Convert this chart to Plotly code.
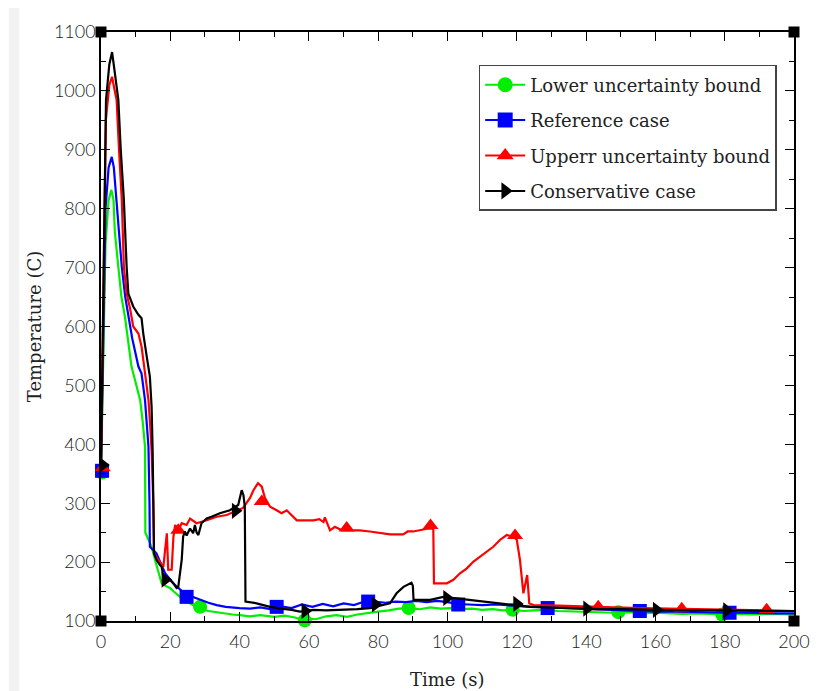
import plotly.graph_objects as go

# ---------------- data ----------------
lower_t = [0, 0.6, 1.3, 2.2, 3.0, 3.6, 4.0, 5.0, 5.9, 6.9, 7.8, 8.8, 10.0, 11.3, 12.0, 12.7, 12.8,
           13.5, 14.6, 16.0, 17.5, 18.5, 19.9, 21.0, 22.8, 25.0, 28.6, 31.0, 35.0, 38.0, 40.0, 43.0,
           46.0, 50.0, 53.0, 56.0, 58.0, 60.0, 62.0, 65.0, 68.0, 71.0, 74.0, 77.0, 80.0, 83.0, 86.0,
           89.0, 92.0, 95.0, 98.0, 101.0, 104.0, 107.0, 110.0, 113.0, 116.0, 119.0, 122.0, 125.0,
           128.0, 132.0, 136.0, 140.0, 144.0, 148.0, 152.0, 156.0, 160.0, 164.0, 168.0, 172.0,
           176.0, 180.0, 184.0, 188.0, 192.0, 196.0, 200.0]
lower_T = [350, 560, 740, 815, 832, 815, 760, 701, 650, 617, 575, 532, 505, 475, 440, 396, 250,
           240, 226, 195, 164, 160, 156, 150, 141, 132, 121, 117, 113, 111, 110, 108,
           110, 107, 109, 106, 102, 104, 103, 108, 110, 107, 111, 114, 116, 118, 121,
           122, 120, 123, 121, 122, 120, 121, 119, 120, 118, 119, 117, 118,
           119, 117, 116, 116, 115, 114, 115, 113, 114, 113, 112, 113,
           112, 111, 112, 111, 112, 111, 111]

ref_t = [0, 0.6, 1.3, 2.2, 3.1, 3.7, 4.4, 5.2, 6.0, 7.0, 7.9, 9.0, 10.8, 11.7, 12.7, 13.7, 14.0,
         14.1, 16.0, 18.5, 20.8, 23.7, 26.0, 28.6, 31.0, 33.4, 36.0, 40.0, 43.0, 46.0, 50.0, 52.0,
         55.0, 58.0, 61.0, 64.0, 67.0, 70.0, 73.0, 76.0, 79.0, 82.0, 85.0, 88.0, 91.0, 94.0, 97.0,
         100.0, 103.0, 106.0, 110.0, 114.0, 118.0, 122.0, 126.0, 130.0, 135.0, 140.0, 145.0, 150.0,
         155.0, 160.0, 165.0, 170.0, 175.0, 180.0, 185.0, 190.0, 195.0, 200.0]
ref_T = [355, 600, 800, 870, 888, 870, 815, 750, 701, 650, 617, 580, 532, 520, 475, 396, 300,
         226, 215, 181, 164, 149, 142, 136, 131, 127, 124, 122, 121, 123, 119, 125,
         122, 128, 124, 129, 125, 130, 127, 133, 133, 131, 133, 132, 134, 132, 134,
         132, 129, 128, 127, 128, 126, 125, 124, 123, 121, 120, 119, 118,
         117, 116, 116, 115, 115, 114, 114, 113, 113, 113]

upper_t = [0, 0.7, 1.4, 2.4, 3.2, 3.8, 4.5, 5.2, 6.0, 6.6, 7.4, 8.4, 9.3, 10.8, 11.7, 12.7, 13.7,
           14.1, 14.6, 15.1, 15.3, 16.5, 18.0, 19.0, 19.4, 20.4, 20.9, 21.4, 22.3, 23.3, 24.7, 25.7,
           27.6, 30.5, 33.4, 36.3, 39.2, 41.0, 43.0, 44.0, 45.3, 46.4, 47.3, 48.8, 50.7, 52.1, 53.6,
           54.5, 56.5, 58.4, 61.3, 63.0, 64.2, 64.6, 66.1, 67.5, 69.5, 71.9, 74.7, 77.6, 80.5, 83.4,
           87.2, 88.5, 90.1, 92.1, 94.5, 95.9, 96.1, 99.8, 101.7, 103.6, 105.5, 107.5, 109.4, 111.3,
           113.2, 115.2, 117.1, 119.0, 120.0, 120.9, 121.9, 122.7, 123.0, 123.6, 124.8, 132.0, 140.0,
           148.0, 156.0, 164.0, 172.0, 180.0, 188.0, 196.0, 200.0]
upper_T = [360, 700, 950, 1010, 1024, 1005, 985, 900, 815, 701, 656, 630, 600, 588, 566, 521, 475,
           440, 390, 300, 215, 204, 192, 249, 187, 187, 243, 263, 254, 266, 263, 274,
           266, 271, 277, 280, 288, 292, 309, 322, 334, 328, 309, 294, 288, 283, 288,
           283, 271, 271, 271, 273, 268, 276, 254, 260, 254, 254, 254, 252, 249, 247,
           247, 252, 252, 254, 257, 257, 164, 164, 170, 181, 189, 201, 209, 218,
           226, 238, 246, 243, 238, 204, 147, 170, 178, 130, 127, 126, 124, 123,
           122, 121, 120, 120, 119, 118, 117]

cons_t = [0, 0.7, 1.45, 2.4, 3.2, 4.0, 5.0, 5.7, 6.6, 7.4, 7.9, 9.3, 10.8, 11.7, 12.2, 13.2, 14.1,
          14.6, 14.9, 15.3, 16.0, 17.0, 17.5, 18.0, 18.3, 19.2, 19.9, 20.9, 21.8, 22.3, 23.3, 23.7,
          24.2, 24.7, 25.7, 26.6, 27.1, 27.6, 28.1, 29.0, 30.5, 31.9, 34.3, 37.2, 39.6, 40.6, 41.1,
          41.5, 41.7, 44.9, 48.8, 52.0, 55.0, 57.4, 61.3, 65.0, 70.9, 74.0, 77.6, 80.5, 83.4, 85.3,
          87.3, 89.6, 90.0, 90.2, 95.0, 98.8, 101.7, 105.0, 109.4, 114.0, 119.0, 123.8, 128.0,
          132.5, 138.0, 144.0, 150.0, 156.0, 162.0, 168.0, 174.0, 180.0, 186.0, 192.0, 200.0]
cons_T = [365, 700, 985, 1045, 1066, 1030, 985, 900, 815, 701, 656, 634, 620, 614, 588, 549, 515,
          464, 390, 215, 204, 195, 192, 175, 168, 172, 170, 164, 156, 158, 204, 243,
          252, 245, 257, 249, 263, 250, 246, 266, 274, 277, 283, 288, 297, 322, 314,
          294, 133, 130, 124, 121, 119, 116, 119, 118, 119, 120, 122, 126, 130, 147,
          158, 165, 160, 136, 136, 141, 139, 137, 133, 130, 127, 124, 123,
          122, 121, 120, 120, 119, 119, 118, 118, 118, 118, 117, 117]

# sparse symbol positions along each curve
lower_mt = [0.3, 28.6, 58.8, 88.8, 118.8, 149.3, 179.3]
lower_mT = [352, 124, 101, 122, 119, 115, 111]
ref_mt = [0.3, 24.7, 50.7, 77.1, 103.1, 128.9, 155.5, 181.4]
ref_mT = [355, 141, 124, 133, 128, 122, 117, 114]
upper_mt = [0.5, 22.3, 46.4, 70.9, 95.1, 119.5, 143.5, 167.6, 192.1]
upper_mT = [360, 254, 303, 258, 262, 245, 124, 121, 119]
cons_mt = [0.5, 18.5, 38.8, 58.9, 79.2, 99.8, 120.0, 140.2, 160.3, 180.6]
cons_mT = [365, 170, 287, 117, 128, 139, 129, 121, 119, 118]

series_names = ["Lower uncertainty bound", "Reference case", "Upperr uncertainty bound", "Conservative case"]
x_title = "Time (s)"
y_title = "Temperature (C)"

x_range = [0, 200]
y_range = [100, 1100]
x_ticks = [0, 20, 40, 60, 80, 100, 120, 140, 160, 180, 200]
y_ticks = [100, 200, 300, 400, 500, 600, 700, 800, 900, 1000, 1100]

# ---------------- figure ----------------
styles = [
    ("#00ee00", "circle"),
    ("#0000ff", "square"),
    ("#ff0000", "triangle-up"),
    ("#000000", "triangle-right"),
]
series = [
    (lower_t, lower_T, lower_mt, lower_mT),
    (ref_t, ref_T, ref_mt, ref_mT),
    (upper_t, upper_T, upper_mt, upper_mT),
    (cons_t, cons_T, cons_mt, cons_mT),
]

fig = go.Figure()
for i, ((t, T, mt, mT), (col, sym), name) in enumerate(zip(series, styles, series_names)):
    fig.add_trace(go.Scatter(x=t, y=T, mode="lines", line=dict(color=col, width=2.2),
                             showlegend=False, legendgroup=name, hoverinfo="skip"))
    fig.add_trace(go.Scatter(x=mt, y=mT, mode="markers",
                             marker=dict(color=col, symbol=sym, size=14, line=dict(width=0)),
                             showlegend=False, legendgroup=name, cliponaxis=False))
    fig.add_trace(go.Scatter(x=[None], y=[None], mode="lines+markers", name=name,
                             line=dict(color=col, width=2),
                             marker=dict(color=col, symbol=sym, size=15),
                             legendgroup=name))

# corner squares
fig.add_trace(go.Scatter(x=[x_range[0], x_range[0], x_range[1], x_range[1]],
                         y=[y_range[0], y_range[1], y_range[1], y_range[0]],
                         mode="markers", marker=dict(color="black", symbol="square", size=11),
                         showlegend=False, cliponaxis=False, hoverinfo="skip"))

tick_font = dict(family="Lato", size=18, color="#1a1a1a", weight=300)
axis_common = dict(
    showgrid=False, zeroline=False, showline=True, linecolor="black", linewidth=1.5,
    ticks="inside", ticklen=9, tickwidth=1.3, tickcolor="black", mirror="ticks",
    tickfont=tick_font, automargin=False,
)
fig.update_xaxes(range=x_range, tickvals=x_ticks, **axis_common, ticklabelstandoff=4,
                 minor=dict(ticks="inside", ticklen=5, dtick=10, tickcolor="black", tickwidth=1.2))
fig.update_yaxes(range=y_range, tickvals=y_ticks, **axis_common,
                 minor=dict(ticks="inside", ticklen=5, dtick=50, tickcolor="black", tickwidth=1.2),
                 title=dict(text=y_title, font=dict(family="DejaVu Serif", size=18, color="#222"),
                            standoff=8))

fig.update_layout(
    width=813, height=683,
    margin=dict(l=93, r=27, t=24, b=70),
    plot_bgcolor="white", paper_bgcolor="white",
    legend=dict(x=0.545, y=0.944, xanchor="left", yanchor="top",
                bordercolor="#444", borderwidth=1.5, bgcolor="white",
                font=dict(family="DejaVu Serif", size=18, color="#222"),
                tracegroupgap=9, itemwidth=40),
    annotations=[dict(text=x_title, x=0.5, y=0, xref="paper", yref="paper",
                      xanchor="center", yanchor="middle", yshift=-58, showarrow=False,
                      font=dict(family="DejaVu Serif", size=18, color="#222"))],
    shapes=[dict(type="rect", xref="paper", yref="paper", x0=-0.133, x1=-0.118,
                 y0=-0.2, y1=1.2, fillcolor="#f2f2f2", line=dict(width=0), layer="below")],
)

fig.write_html("out.html")
